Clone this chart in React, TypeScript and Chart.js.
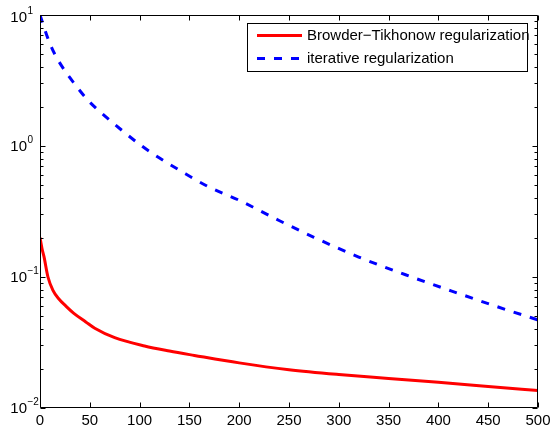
import React, { useEffect, useRef } from "react";
import { Chart, registerables } from "chart.js";

Chart.register(...registerables);

const tikhonovX = [0, 2, 4, 8, 13, 19, 26, 34, 46, 55, 75, 105, 130, 155, 200, 250, 300, 350, 400, 450, 500];
const tikhonovValues = [0.2, 0.165, 0.143, 0.1, 0.079, 0.068, 0.06, 0.0528, 0.0454, 0.0406, 0.0344, 0.0297, 0.0272, 0.0252, 0.0221, 0.0196, 0.018, 0.0168, 0.0157, 0.0146, 0.0136];
const iterativeX = [0, 8, 15, 24, 35, 49, 65, 80, 103, 120, 142, 170, 200, 240, 275, 320, 367, 420, 460, 500];
const iterativeValues = [10, 6.6, 5.0, 3.85, 2.96, 2.2, 1.7, 1.36, 0.99, 0.81, 0.64, 0.485, 0.385, 0.27, 0.201, 0.142, 0.104, 0.075, 0.059, 0.047];
const seriesLabels = ["Browder\u2212Tikhonow regularization", "iterative regularization"];
const xTicks = [0, 50, 100, 150, 200, 250, 300, 350, 400, 450, 500];
const yMajorExponents = [-2, -1, 0, 1];

const FONT = '"Liberation Sans", Arial, Helvetica, sans-serif';

const axesPlugin = {
  id: "matlabAxes",
  afterDatasetsDraw(chart: any) {
    const { ctx, chartArea } = chart;
    const xs = chart.scales.x;
    const ys = chart.scales.y;
    const L = Math.round(chartArea.left) + 0.5;
    const R = Math.round(chartArea.right) - 0.5;
    const T = Math.round(chartArea.top) + 0.5;
    const B = Math.round(chartArea.bottom) - 0.5;
    ctx.save();
    ctx.strokeStyle = "#000";
    ctx.lineWidth = 1;
    ctx.beginPath();
    ctx.rect(L, T, R - L, B - T);
    xTicks.forEach((v) => {
      const px = Math.round(xs.getPixelForValue(v)) + 0.5;
      ctx.moveTo(px, B);
      ctx.lineTo(px, B - 5);
      ctx.moveTo(px, T);
      ctx.lineTo(px, T + 5);
    });
    yMajorExponents.forEach((e) => {
      for (let m = 1; m <= 9; m++) {
        const v = m * Math.pow(10, e);
        if (v > 10.0001) continue;
        const py = Math.round(ys.getPixelForValue(v)) + 0.5;
        const len = m === 1 ? 5 : 3;
        ctx.moveTo(L, py);
        ctx.lineTo(L + len, py);
        ctx.moveTo(R, py);
        ctx.lineTo(R - len, py);
      }
    });
    ctx.stroke();

    ctx.fillStyle = "#000";
    ctx.font = `15px ${FONT}`;
    ctx.textAlign = "center";
    ctx.textBaseline = "middle";
    xTicks.forEach((v) => {
      ctx.fillText(String(v), xs.getPixelForValue(v), 421);
    });

    yMajorExponents.forEach((e) => {
      const py = ys.getPixelForValue(Math.pow(10, e));
      let c = py + 1;
      if (c < 18) c = 18;
      const ec = c - 7;
      ctx.font = `15px ${FONT}`;
      ctx.textAlign = "right";
      ctx.fillText("10", 27, c);
      ctx.font = `10px ${FONT}`;
      ctx.textAlign = "left";
      ctx.fillText(e < 0 ? "\u2212" + Math.abs(e) : String(e), 27.5, ec);
    });

    const bx = 247.5, by = 23.5, bw = 280, bh = 48;
    ctx.fillStyle = "#fff";
    ctx.fillRect(bx, by, bw, bh);
    ctx.strokeStyle = "#000";
    ctx.lineWidth = 1;
    ctx.strokeRect(bx, by, bw, bh);
    const rows = [35.5, 58.5];
    chart.data.datasets.forEach((ds: any, i: number) => {
      const y = rows[i];
      ctx.beginPath();
      ctx.strokeStyle = ds.borderColor;
      ctx.lineWidth = ds.borderWidth;
      ctx.setLineDash(ds.borderDash || []);
      ctx.moveTo(257, y);
      ctx.lineTo(302, y);
      ctx.stroke();
      ctx.setLineDash([]);
      ctx.fillStyle = "#000";
      ctx.font = `15px ${FONT}`;
      ctx.textAlign = "left";
      ctx.textBaseline = "middle";
      ctx.fillText(ds.label, 307, y);
    });
    ctx.restore();
  },
};

export default function App() {
  const ref = useRef<HTMLCanvasElement | null>(null);
  useEffect(() => {
    if (!ref.current) return;
    const chart = new Chart(ref.current, {
      type: "line",
      data: {
        datasets: [
          {
            label: seriesLabels[0],
            data: tikhonovX.map((x, i) => ({ x, y: tikhonovValues[i] })),
            borderColor: "#ff0000",
            borderWidth: 3,
            pointRadius: 0,
            fill: false,
            cubicInterpolationMode: "monotone",
          },
          {
            label: seriesLabels[1],
            data: iterativeX.map((x, i) => ({ x, y: iterativeValues[i] })),
            borderColor: "#0000ff",
            borderWidth: 3,
            borderDash: [8, 9],
            pointRadius: 0,
            fill: false,
            cubicInterpolationMode: "monotone",
          },
        ],
      },
      options: {
        animation: false,
        responsive: false,
        layout: { padding: { top: 15, right: 15, left: 0, bottom: 0 } },
        plugins: { legend: { display: false }, tooltip: { enabled: false } },
        scales: {
          x: {
            type: "linear",
            min: 0,
            max: 500,
            grid: { display: false },
            border: { display: false },
            ticks: { display: false },
            afterFit: (s: any) => { s.height = 24; },
          },
          y: {
            type: "logarithmic",
            min: 0.01,
            max: 10,
            grid: { display: false },
            border: { display: false },
            ticks: { display: false },
            afterFit: (s: any) => { s.width = 40; },
          },
        },
      },
      plugins: [axesPlugin],
    } as any);
    return () => chart.destroy();
  }, []);
  return (
    <div style={{ position: "fixed", left: 0, top: 0, width: 553, height: 432, background: "#fff" }}>
      <canvas ref={ref} width={553} height={432} style={{ display: "block" }} />
    </div>
  );
}
